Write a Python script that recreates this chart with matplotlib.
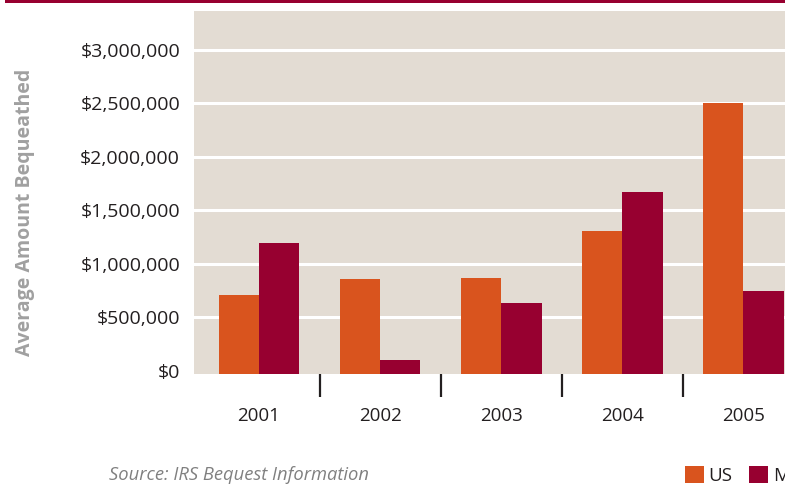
import matplotlib
matplotlib.use("Agg")
import matplotlib.pyplot as plt
from matplotlib.patches import Rectangle
from matplotlib.ticker import FuncFormatter
import numpy as np

plt.rcParams['font.family'] = ['Open Sans', 'DejaVu Sans']

years = ["2001", "2002", "2003", "2004", "2005"]
series_names = ["US", "MA"]
us_values = [706000, 855000, 864000, 1304000, 2500000]
m_values = [1192000, 98000, 631000, 1668000, 743000]
y_ticks = [0, 500000, 1000000, 1500000, 2000000, 2500000, 3000000]

c_us = "#D9541E"
c_m = "#970030"
bg = "#E3DCD3"

W, H = 785, 486
fig = plt.figure(figsize=(W / 100, H / 100), dpi=100)
fig.patch.set_facecolor("white")

# axes placement in pixels
left_px, right_px, top_px, bot_px = 194, 804, 11, 373.5
ax = fig.add_axes([left_px / W, 1 - bot_px / H, (right_px - left_px) / W, (bot_px - top_px) / H])
ax.set_facecolor(bg)

x = np.arange(len(years))
bw = 0.333
ymin, ymax = -28000, 3360000
ax.bar(x - bw / 2, np.array(us_values) - ymin, bottom=ymin, width=bw, color=c_us, label=series_names[0], zorder=3)
ax.bar(x + bw / 2, np.array(m_values) - ymin, bottom=ymin, width=bw, color=c_m, label=series_names[1], zorder=3)

ax.set_xlim(-0.537, 4.5)
ax.set_ylim(ymin, ymax)

for s in ax.spines.values():
    s.set_visible(False)

ax.set_yticks(y_ticks)
ax.yaxis.set_major_formatter(FuncFormatter(lambda v, p: "${:,.0f}".format(v)))
ax.tick_params(axis='y', length=0, pad=10, labelsize=14, labelcolor="#231F20")
for t in y_ticks[1:]:
    ax.axhline(t, color="white", linewidth=2.2, zorder=1)

ax.set_xticks(x)
ax.set_xticklabels(years)
ax.set_xticks(x[:-1] + 0.5, minor=True)
ax.tick_params(axis='x', which='major', length=0, pad=24, labelsize=13.5, labelcolor="#231F20")
ax.tick_params(axis='x', which='minor', length=16.5, width=1.6, color="#231F20", direction='out')

fig.text(25.5 / W, 1 - 212 / H, "Average Amount Bequeathed", rotation=90, ha='center', va='center',
         fontsize=14, fontweight='bold', color="#A0A0A0")

fig.text(109 / W, 1 - 475 / H, "Source: IRS Bequest Information", ha='left', va='center',
         fontsize=13.2, fontstyle='italic', color="#808080")

fig.patches.append(Rectangle((5 / W, 1 - 3 / H), 1, 3 / H, transform=fig.transFigure,
                             facecolor=c_m, edgecolor='none'))

leg = ax.legend(loc='upper left', bbox_to_anchor=(685 / W, 1 - 466 / H), bbox_transform=fig.transFigure,
                ncol=2, frameon=False, fontsize=13.5, handlelength=1.0, handleheight=1.0,
                handletextpad=0.25, columnspacing=0.9, borderpad=0, borderaxespad=0)
for t in leg.get_texts():
    t.set_color("#231F20")

fig.savefig("out.png", dpi=100)
